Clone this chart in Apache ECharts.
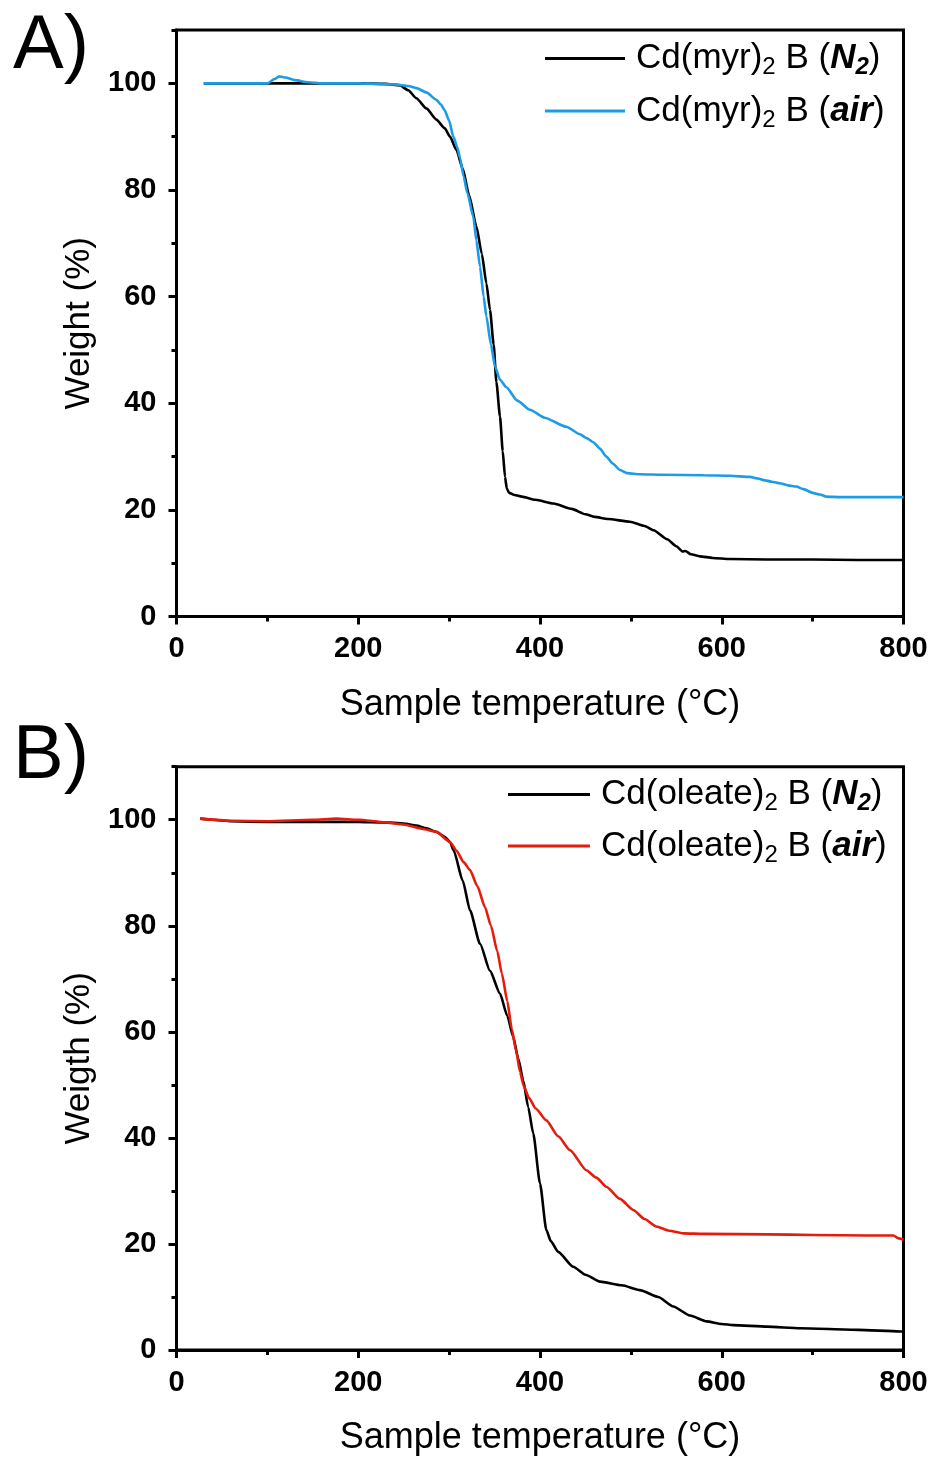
<!DOCTYPE html>
<html>
<head>
<meta charset="utf-8">
<script src="https://cdn.jsdelivr.net/npm/echarts@6/dist/echarts.min.js"></script>
<style>html,body{margin:0;padding:0;background:#fff}#c{width:933px;height:1458px}</style>
</head>
<body>
<div id="c"></div>
<script>
// ---- Panel A: Cd(myr)2 B ----
const tempA_N2 = [30, 100, 150, 200, 230, 246, 255, 264, 275, 286, 295, 301, 308, 315, 322, 330, 336, 341, 345, 349, 352, 356, 359, 361.5, 363.5, 366, 372, 380, 395, 415, 435, 450, 460, 475, 499, 515, 525, 540, 550, 557, 560, 566, 576, 590, 609, 650, 700, 750, 800];
const wA_N2    = [100, 100, 100, 100, 99.9, 99.6, 98.7, 97.2, 95.3, 93.2, 91.6, 90, 87.5, 84, 79, 73.2, 68, 62.5, 57.5, 51, 44, 37.5, 31, 26.2, 24, 23.2, 22.8, 22.5, 21.9, 21.2, 20.2, 19.2, 18.7, 18.3, 17.8, 17, 16.2, 14.5, 13.2, 12.2, 12.3, 11.7, 11.3, 11.0, 10.8, 10.7, 10.7, 10.6, 10.6];
const tempA_air = [30, 100, 108, 113, 120, 130, 145, 160, 200, 240, 255, 264, 275, 286, 291, 295, 300, 304.6, 309, 312, 316, 320, 326.6, 330, 334, 338, 341, 346, 350.5, 356, 363, 375, 389, 405, 429, 444, 451, 458.6, 466, 473, 480, 488, 496, 510, 535, 580, 609, 631, 640, 646, 655, 664, 673, 682, 690, 700, 708, 715, 730, 760, 800];
const wA_air    = [100, 100, 100.8, 101.3, 101.1, 100.6, 100.2, 100, 100, 99.8, 99.5, 99.1, 98.3, 96.9, 96.0, 95, 93, 90, 88, 86, 82.5, 79.5, 75, 70.5, 65.6, 60, 56.3, 51, 46.9, 44.4, 43, 40.5, 38.8, 37.3, 35.6, 34.2, 33.5, 32.7, 31.5, 30, 28.7, 27.5, 26.9, 26.7, 26.6, 26.5, 26.4, 26.2, 25.9, 25.6, 25.3, 25, 24.6, 24.4, 23.9, 23.2, 22.9, 22.5, 22.4, 22.4, 22.4];

// ---- Panel B: Cd(oleate)2 B ----
const tempB_N2 = [26, 40, 60, 100, 150, 200, 228, 250, 264, 275, 286, 295, 301, 305, 315, 323, 334, 345, 356, 364, 370.6, 376, 381.6, 387, 392.6, 400, 407, 412, 420, 436.6, 450, 466, 490, 510, 530, 546.7, 565, 583.4, 600, 612.7, 650, 686, 750, 796, 800];
const wB_N2    = [100.2, 100, 99.7, 99.6, 99.6, 99.6, 99.5, 99.3, 98.9, 98.4, 97.7, 96.8, 95.8, 94.2, 88.5, 82.9, 76.6, 71.5, 67.2, 63, 59, 55, 50.8, 45.8, 40.8, 31.4, 22.6, 20.5, 18.5, 15.7, 14.2, 12.9, 12.2, 11.3, 10, 8.2, 6.5, 5.4, 4.9, 4.7, 4.4, 4.1, 3.8, 3.5, 3.5];
const tempB_air = [26, 60, 100, 150, 176, 200, 230, 250, 270, 286, 301, 308, 316, 323, 331, 339.5, 346, 353, 358, 364, 369, 373.6, 378, 382, 388, 395, 407, 420, 433, 451, 462, 473, 488, 502.6, 515, 528, 542, 557.7, 580, 650, 700, 760, 789, 794, 800];
const wB_air    = [100.2, 99.8, 99.7, 100, 100.2, 100, 99.5, 99.1, 98.3, 97.7, 95.8, 94.2, 92, 90.5, 87.5, 83.5, 80, 75.2, 71, 65.8, 60.5, 56.5, 52.5, 49.8, 47.5, 45.6, 43.3, 40.3, 37.7, 33.9, 32.5, 30.8, 28.5, 26.4, 24.7, 23.3, 22.5, 22, 21.9, 21.8, 21.7, 21.6, 21.6, 21.1, 20.8];

const namesA = ['Cd(myr)2 B (N2)', 'Cd(myr)2 B (air)'];
const namesB = ['Cd(oleate)2 B (N2)', 'Cd(oleate)2 B (air)'];
const panelTitles = ['A)', 'B)'];
const xAxisName = 'Sample temperature (°C)';
const yAxisNames = ['Weight (%)', 'Weigth (%)'];

const zip = (t, w) => t.map((v, i) => [v, w[i]]);
const FONT = '"Liberation Sans", Arial, Helvetica, sans-serif';

const legendRich = {
  r0: {fontFamily: FONT, fontSize: 35, color: '#000', lineHeight: 42, verticalAlign: 'middle', padding: [0, 0, 0, 6]},
  r:  {fontFamily: FONT, fontSize: 35, color: '#000', lineHeight: 42, verticalAlign: 'middle'},
  s:  {fontFamily: FONT, fontSize: 24, color: '#000', lineHeight: 18, verticalAlign: 'bottom'},
  bi: {fontFamily: FONT, fontSize: 35, color: '#000', lineHeight: 42, verticalAlign: 'middle', fontWeight: 'bold', fontStyle: 'italic'},
  bs: {fontFamily: FONT, fontSize: 24, color: '#000', lineHeight: 18, verticalAlign: 'bottom', fontWeight: 'bold', fontStyle: 'italic'}
};
function legendFmt(name) {
  const m = name.match(/^(Cd\((?:myr|oleate)\))2 B \((N2|air)\)$/);
  if (!m) return name;
  const tail = m[2] === 'N2' ? '{bi|N}{bs|2}{r|)}' : '{bi|air}{r|)}';
  return '{r0|' + m[1] + '}{s|2}{r| B (}' + tail;
}

function xAxisCfg(gi) {
  return {
    type: 'value', gridIndex: gi, min: 0, max: 800, interval: 200,
    name: xAxisName, nameLocation: 'middle', nameGap: 70,
    nameTextStyle: {fontFamily: FONT, fontSize: 36, color: '#000'},
    axisLine: {show: true, onZero: false, lineStyle: {color: '#000', width: 3}},
    axisTick: {show: true, inside: false, length: 8, lineStyle: {color: '#000', width: 3}},
    minorTick: {show: true, splitNumber: 2, length: 5, lineStyle: {color: '#000', width: 3}},
    axisLabel: {fontFamily: FONT, fontSize: 29, fontWeight: 'bold', color: '#000', margin: 18},
    splitLine: {show: false}, minorSplitLine: {show: false}
  };
}
function yAxisCfg(gi, name) {
  return {
    type: 'value', gridIndex: gi, min: 0, max: 110, interval: 20, position: 'left',
    name: name, nameLocation: 'middle', nameGap: 77,
    nameTextStyle: {fontFamily: FONT, fontSize: 35, color: '#000'},
    axisLine: {show: true, onZero: false, lineStyle: {color: '#000', width: 3}},
    axisTick: {show: true, inside: false, length: 8, lineStyle: {color: '#000', width: 3}},
    axisLabel: {fontFamily: FONT, fontSize: 29, fontWeight: 'bold', color: '#000', margin: 20, showMaxLabel: false,
      formatter: v => (v > 100 ? '' : String(v))},
    splitLine: {show: false}
  };
}
function yMinorCfg(gi) {
  return {
    type: 'value', gridIndex: gi, min: 0, max: 110, interval: 10, position: 'left',
    axisLine: {show: false},
    axisTick: {show: true, inside: false, length: 5, lineStyle: {color: '#000', width: 3}},
    axisLabel: {show: false}, splitLine: {show: false}
  };
}
function lineSeries(name, xi, yi, data, color) {
  return {
    name: name, type: 'line', xAxisIndex: xi, yAxisIndex: yi, data: data,
    showSymbol: false, symbol: 'none', smooth: 0.2, smoothMonotone: 'x',
    lineStyle: {color: color, width: 2.6}, itemStyle: {color: color}, z: 3
  };
}

const BLUE = '#1c9be6', RED = '#e51b0c', BLACK = '#000000';

const option = {
  animation: false,
  backgroundColor: '#fff',
  title: [
    {text: panelTitles[0], left: 8, top: 4, textStyle: {fontFamily: FONT, fontSize: 76, fontWeight: 'normal', color: '#000'}},
    {text: panelTitles[1], left: 8, top: 714, textStyle: {fontFamily: FONT, fontSize: 76, fontWeight: 'normal', color: '#000'}}
  ],
  grid: [
    {left: 176.5, top: 30, width: 727, height: 586.6, show: true, borderColor: '#000', borderWidth: 3, backgroundColor: 'transparent'},
    {left: 176.5, top: 766.7, width: 727, height: 583.3, show: true, borderColor: '#000', borderWidth: 3, backgroundColor: 'transparent'}
  ],
  legend: [
    {data: namesA, orient: 'vertical', left: 545, top: 41, padding: 0, itemWidth: 80, itemHeight: 3, itemGap: 14,
     icon: 'rect', formatter: legendFmt, textStyle: {rich: legendRich}, selectedMode: false},
    {data: namesB, orient: 'vertical', left: 508, top: 777, padding: 0, itemWidth: 82, itemHeight: 3, itemGap: 13,
     icon: 'rect', formatter: legendFmt, textStyle: {rich: legendRich}, selectedMode: false}
  ],
  xAxis: [xAxisCfg(0), xAxisCfg(1)],
  yAxis: [yAxisCfg(0, yAxisNames[0]), yMinorCfg(0), yAxisCfg(1, yAxisNames[1]), yMinorCfg(1)],
  series: [
    lineSeries(namesA[0], 0, 0, zip(tempA_N2, wA_N2), BLACK),
    lineSeries(namesA[1], 0, 0, zip(tempA_air, wA_air), BLUE),
    lineSeries(namesB[0], 1, 2, zip(tempB_N2, wB_N2), BLACK),
    lineSeries(namesB[1], 1, 2, zip(tempB_air, wB_air), RED)
  ]
};
const chart = echarts.init(document.getElementById('c'), null, {renderer: 'canvas'});
chart.setOption(option);
</script>
</body>
</html>
